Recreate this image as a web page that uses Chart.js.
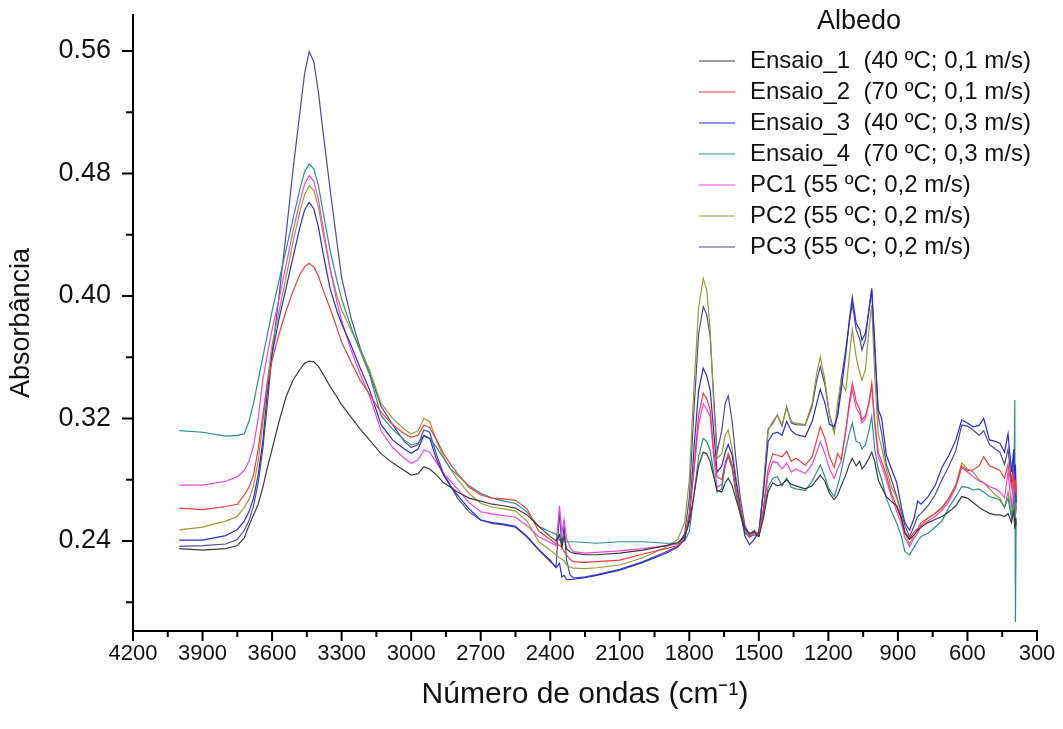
<!DOCTYPE html>
<html lang="pt">
<head>
<meta charset="utf-8">
<title>Albedo</title>
<script src="https://cdn.jsdelivr.net/npm/chart.js@4.4.1/dist/chart.umd.min.js"></script>
<style>
  html, body { margin: 0; padding: 0; background: #fff; }
  #wrap { width: 1063px; height: 729px; }
</style>
</head>
<body>
<div id="wrap"><canvas id="chart" width="1063" height="729"></canvas></div>
<script>
// wavenumbers (cm-1), shared by every spectrum
const wavenumbers = [
  4000, 3900, 3800, 3750, 3720, 3700, 3680, 3660, 3640, 3620,
  3600, 3570, 3540, 3510, 3480, 3460, 3440, 3420, 3400, 3380,
  3350, 3320, 3300, 3260, 3220, 3180, 3130, 3080, 3030, 3000,
  2970, 2945, 2920, 2890, 2860, 2830, 2800, 2750, 2700, 2650,
  2600, 2550, 2500, 2450, 2400, 2375, 2360, 2350, 2340, 2330,
  2315, 2300, 2250, 2200, 2100, 2000, 1900, 1850, 1820, 1800,
  1780, 1760, 1740, 1725, 1710, 1695, 1680, 1660, 1645, 1632,
  1615, 1600, 1580, 1560, 1540, 1520, 1500, 1480, 1460, 1440,
  1420, 1400, 1380, 1360, 1340, 1300, 1270, 1250, 1235, 1215,
  1195, 1175, 1160, 1145, 1125, 1110, 1097, 1080, 1065, 1055,
  1040, 1025, 1013, 1000, 985, 970, 950, 930, 905, 885,
  870, 850, 830, 815, 800, 770, 740, 710, 680, 650,
  625, 600, 575, 550, 530, 505, 480, 460, 440, 425,
  410, 400, 396, 393, 390
];

const ensaio1 = [
  0.235, 0.234, 0.235, 0.237, 0.242, 0.250, 0.257, 0.264, 0.275, 0.288,
  0.300, 0.318, 0.334, 0.345, 0.352, 0.356, 0.3575, 0.357, 0.354, 0.349,
  0.341, 0.334, 0.329, 0.321, 0.313, 0.306, 0.297, 0.291, 0.286, 0.283,
  0.284, 0.2885, 0.287, 0.283, 0.278, 0.275, 0.272, 0.268, 0.266, 0.264,
  0.263, 0.2615, 0.257, 0.2495, 0.243, 0.240, 0.244, 0.236, 0.2435, 0.235,
  0.233, 0.232, 0.231, 0.231, 0.232, 0.234, 0.237, 0.239, 0.243, 0.252,
  0.270, 0.289, 0.298, 0.297, 0.292, 0.282, 0.273, 0.272, 0.278, 0.281,
  0.276, 0.268, 0.258, 0.248, 0.245, 0.246, 0.243, 0.255, 0.272, 0.278,
  0.276, 0.277, 0.280, 0.277, 0.276, 0.274, 0.276, 0.280, 0.283, 0.279,
  0.271, 0.267, 0.270, 0.276, 0.283, 0.290, 0.294, 0.289, 0.292, 0.287,
  0.290, 0.294, 0.298, 0.292, 0.280, 0.275, 0.269, 0.266, 0.263, 0.255,
  0.245, 0.241, 0.244, 0.247, 0.249, 0.252, 0.254, 0.256, 0.259, 0.263,
  0.269, 0.268, 0.265, 0.262, 0.260, 0.258, 0.257, 0.257, 0.256, 0.258,
  0.252, 0.260, 0.248, 0.255, 0.250
];

const ensaio2 = [
  0.2615, 0.2605, 0.2625, 0.264, 0.270, 0.275, 0.283, 0.300, 0.322, 0.343,
  0.358, 0.375, 0.390, 0.403, 0.414, 0.419, 0.4213, 0.419, 0.413, 0.404,
  0.392, 0.379, 0.370, 0.357, 0.345, 0.336, 0.324, 0.316, 0.310, 0.3077,
  0.309, 0.3157, 0.314, 0.306, 0.297, 0.290, 0.284, 0.275, 0.270, 0.268,
  0.2675, 0.2665, 0.261, 0.2465, 0.241, 0.238, 0.237, 0.236, 0.233, 0.231,
  0.228, 0.2265, 0.226, 0.2265, 0.2275, 0.2315, 0.235, 0.237, 0.243, 0.258,
  0.288, 0.322, 0.3365, 0.333, 0.3255, 0.300, 0.282, 0.280, 0.291, 0.297,
  0.290, 0.275, 0.261, 0.249, 0.243, 0.246, 0.244, 0.262, 0.287, 0.297,
  0.296, 0.295, 0.2985, 0.292, 0.294, 0.2895, 0.295, 0.306, 0.3146, 0.307,
  0.295, 0.288, 0.297, 0.293, 0.312, 0.330, 0.343, 0.331, 0.326, 0.319,
  0.322, 0.330, 0.343, 0.318, 0.298, 0.292, 0.283, 0.272, 0.262, 0.254,
  0.246, 0.2415, 0.246, 0.248, 0.252, 0.255, 0.258, 0.262, 0.268, 0.276,
  0.289, 0.286, 0.2865, 0.289, 0.295, 0.289, 0.2875, 0.286, 0.281, 0.290,
  0.275, 0.285, 0.270, 0.280, 0.272
];

const ensaio3 = [
  0.2405, 0.2405, 0.2435, 0.2475, 0.253, 0.259, 0.268, 0.283, 0.305, 0.338,
  0.362, 0.385, 0.405, 0.425, 0.445, 0.456, 0.4612, 0.457, 0.445, 0.428,
  0.405, 0.390, 0.382, 0.368, 0.353, 0.339, 0.316, 0.306, 0.300, 0.2973,
  0.300, 0.309, 0.307, 0.293, 0.283, 0.276, 0.270, 0.261, 0.2537, 0.252,
  0.251, 0.2495, 0.243, 0.2345, 0.2275, 0.2225, 0.2255, 0.2165, 0.2175, 0.2150,
  0.2148, 0.2150, 0.2160, 0.2175, 0.221, 0.226, 0.232, 0.236, 0.241, 0.255,
  0.300, 0.338, 0.3528, 0.348, 0.3386, 0.312, 0.285, 0.289, 0.298, 0.303,
  0.296, 0.280, 0.262, 0.243, 0.2375, 0.241, 0.246, 0.272, 0.305, 0.310,
  0.311, 0.309, 0.318, 0.312, 0.3095, 0.308, 0.318, 0.330, 0.339, 0.330,
  0.316, 0.315, 0.322, 0.338, 0.362, 0.384, 0.399, 0.382, 0.378, 0.371,
  0.376, 0.390, 0.404, 0.365, 0.326, 0.320, 0.296, 0.288, 0.278, 0.262,
  0.252, 0.247, 0.255, 0.266, 0.264, 0.269, 0.276, 0.288, 0.296, 0.306,
  0.319, 0.317, 0.3146, 0.3155, 0.320, 0.306, 0.305, 0.3038, 0.298, 0.310,
  0.285, 0.300, 0.270, 0.290, 0.265
];

const ensaio4 = [
  0.312, 0.311, 0.3085, 0.309, 0.310, 0.318, 0.330, 0.345, 0.360, 0.375,
  0.390, 0.410, 0.430, 0.450, 0.470, 0.481, 0.4862, 0.483, 0.472, 0.455,
  0.430, 0.410, 0.398, 0.380, 0.364, 0.349, 0.322, 0.313, 0.306, 0.3027,
  0.304, 0.3085, 0.307, 0.301, 0.294, 0.287, 0.283, 0.276, 0.2711, 0.268,
  0.266, 0.2645, 0.259, 0.2495, 0.246, 0.2445, 0.2405, 0.2395, 0.2395, 0.2395,
  0.2395, 0.2395, 0.2390, 0.2385, 0.2395, 0.2395, 0.2385, 0.2385, 0.240, 0.246,
  0.270, 0.295, 0.307, 0.305, 0.299, 0.285, 0.272, 0.274, 0.290, 0.296,
  0.288, 0.272, 0.257, 0.245, 0.243, 0.244, 0.243, 0.258, 0.275, 0.281,
  0.282, 0.276, 0.281, 0.275, 0.274, 0.273, 0.279, 0.285, 0.2896, 0.282,
  0.273, 0.269, 0.276, 0.285, 0.300, 0.310, 0.317, 0.305, 0.304, 0.300,
  0.303, 0.312, 0.321, 0.300, 0.287, 0.280, 0.268, 0.260, 0.2516, 0.243,
  0.233, 0.2309, 0.236, 0.240, 0.243, 0.245, 0.249, 0.253, 0.262, 0.269,
  0.2755, 0.275, 0.2733, 0.274, 0.272, 0.269, 0.268, 0.2668, 0.262, 0.268,
  0.255, 0.265, 0.332, 0.187, 0.255
];

const pc1 = [
  0.2765, 0.2765, 0.279, 0.282, 0.286, 0.292, 0.302, 0.320, 0.345, 0.362,
  0.378, 0.398, 0.420, 0.442, 0.462, 0.473, 0.4786, 0.475, 0.463, 0.445,
  0.418, 0.396, 0.384, 0.365, 0.349, 0.335, 0.312, 0.301, 0.294, 0.2907,
  0.293, 0.2994, 0.298, 0.291, 0.284, 0.279, 0.274, 0.265, 0.2591, 0.2575,
  0.2565, 0.2555, 0.250, 0.2428, 0.239, 0.237, 0.263, 0.245, 0.254, 0.242,
  0.236, 0.233, 0.232, 0.2325, 0.2335, 0.235, 0.237, 0.238, 0.242, 0.255,
  0.285, 0.316, 0.3295, 0.326, 0.3212, 0.295, 0.275, 0.277, 0.289, 0.295,
  0.287, 0.273, 0.259, 0.246, 0.242, 0.245, 0.243, 0.260, 0.283, 0.292,
  0.291, 0.287, 0.291, 0.285, 0.287, 0.284, 0.290, 0.298, 0.3048, 0.297,
  0.287, 0.281, 0.287, 0.292, 0.312, 0.328, 0.3386, 0.327, 0.323, 0.317,
  0.320, 0.331, 0.3408, 0.316, 0.295, 0.289, 0.280, 0.270, 0.259, 0.251,
  0.242, 0.2363, 0.242, 0.245, 0.250, 0.253, 0.256, 0.260, 0.266, 0.275,
  0.288, 0.285, 0.282, 0.279, 0.278, 0.2755, 0.274, 0.272, 0.268, 0.285,
  0.262, 0.288, 0.255, 0.280, 0.265
];

const pc2 = [
  0.2472, 0.249, 0.253, 0.256, 0.262, 0.267, 0.276, 0.292, 0.317, 0.345,
  0.368, 0.390, 0.412, 0.435, 0.455, 0.466, 0.472, 0.469, 0.458, 0.441,
  0.418, 0.400, 0.391, 0.378, 0.365, 0.352, 0.330, 0.320, 0.313, 0.3099,
  0.312, 0.320, 0.318, 0.305, 0.295, 0.287, 0.280, 0.271, 0.2646, 0.262,
  0.261, 0.2595, 0.253, 0.2396, 0.234, 0.2309, 0.229, 0.228, 0.227, 0.2245,
  0.223, 0.2222, 0.222, 0.2225, 0.2243, 0.229, 0.236, 0.241, 0.252, 0.280,
  0.340, 0.392, 0.4115, 0.404, 0.3778, 0.330, 0.294, 0.297, 0.309, 0.3125,
  0.300, 0.283, 0.263, 0.247, 0.243, 0.246, 0.245, 0.275, 0.312, 0.318,
  0.322, 0.316, 0.327, 0.318, 0.317, 0.316, 0.330, 0.350, 0.360, 0.345,
  0.322, 0.310, 0.330, 0.345, 0.338, 0.360, 0.378, 0.360, 0.350, 0.345,
  0.352, 0.378, 0.394, 0.348, 0.310, 0.301, 0.287, 0.276, 0.268, 0.256,
  0.246, 0.238, 0.244, 0.247, 0.250, 0.255, 0.258, 0.261, 0.268, 0.277,
  0.291, 0.287, 0.285, 0.280, 0.278, 0.274, 0.270, 0.268, 0.262, 0.272,
  0.258, 0.270, 0.255, 0.265, 0.258
];

const pc3 = [
  0.2365, 0.237, 0.238, 0.241, 0.247, 0.253, 0.263, 0.278, 0.300, 0.330,
  0.362, 0.400, 0.440, 0.482, 0.520, 0.545, 0.5595, 0.553, 0.533, 0.507,
  0.470, 0.435, 0.412, 0.386, 0.366, 0.350, 0.328, 0.316, 0.305, 0.301,
  0.303, 0.3125, 0.311, 0.296, 0.284, 0.276, 0.268, 0.259, 0.2537, 0.2515,
  0.2505, 0.249, 0.2425, 0.234, 0.2265, 0.223, 0.259, 0.236, 0.250, 0.228,
  0.218, 0.2158, 0.2165, 0.218, 0.2215, 0.2265, 0.233, 0.2365, 0.245, 0.268,
  0.325, 0.375, 0.393, 0.388, 0.3734, 0.335, 0.298, 0.312, 0.330, 0.3347,
  0.318, 0.295, 0.268, 0.250, 0.244, 0.247, 0.244, 0.275, 0.313, 0.317,
  0.3223, 0.315, 0.3277, 0.317, 0.316, 0.3157, 0.328, 0.345, 0.3538, 0.342,
  0.322, 0.312, 0.323, 0.345, 0.365, 0.382, 0.395, 0.378, 0.372, 0.3647,
  0.372, 0.392, 0.405, 0.370, 0.322, 0.310, 0.290, 0.281, 0.269, 0.258,
  0.250, 0.2428, 0.250, 0.256, 0.258, 0.263, 0.270, 0.280, 0.289, 0.299,
  0.3157, 0.315, 0.3125, 0.309, 0.312, 0.303, 0.300, 0.298, 0.290, 0.300,
  0.278, 0.295, 0.262, 0.285, 0.260
];

const seriesLabels = [
  'Ensaio_1  (40 ºC; 0,1 m/s)',
  'Ensaio_2  (70 ºC; 0,1 m/s)',
  'Ensaio_3  (40 ºC; 0,3 m/s)',
  'Ensaio_4  (70 ºC; 0,3 m/s)',
  'PC1 (55 ºC; 0,2 m/s)',
  'PC2 (55 ºC; 0,2 m/s)',
  'PC3 (55 ºC; 0,2 m/s)'
];
const seriesValues = [ensaio1, ensaio2, ensaio3, ensaio4, pc1, pc2, pc3];
const seriesColors = ['#3a3a3a', '#f23c3c', '#2a2ad8', '#2b9087', '#f044e0', '#9a9a32', '#4a4a9e'];

const xMajorTicks = [4200, 3900, 3600, 3300, 3000, 2700, 2400, 2100, 1800, 1500, 1200, 900, 600, 300];
const xMinorTicks = [4050, 3750, 3450, 3150, 2850, 2550, 2250, 1950, 1650, 1350, 1050, 750, 450];
const yMajorTicks = [0.24, 0.32, 0.40, 0.48, 0.56];
const yMinorTicks = [0.20, 0.28, 0.36, 0.44, 0.52];

const legendTitle = 'Albedo';
const xTitle = 'Número de ondas (cm⁻¹)';
const yTitle = 'Absorbância';

Chart.defaults.font.family = '"Liberation Sans", Arial, sans-serif';
Chart.defaults.color = '#111';

// outward tick marks, long for labelled ticks, short for the minor ones
const tickMarks = {
  id: 'tickMarks',
  afterDraw(chart) {
    const { ctx, chartArea, scales } = chart;
    const x = scales.x, y = scales.y;
    ctx.save();
    ctx.strokeStyle = '#000';
    ctx.lineWidth = 2;
    ctx.beginPath();
    xMajorTicks.forEach(v => {
      const px = x.getPixelForValue(v);
      ctx.moveTo(px, chartArea.bottom); ctx.lineTo(px, chartArea.bottom + 10);
    });
    xMinorTicks.forEach(v => {
      const px = x.getPixelForValue(v);
      ctx.moveTo(px, chartArea.bottom); ctx.lineTo(px, chartArea.bottom + 6);
    });
    yMajorTicks.forEach(v => {
      const py = y.getPixelForValue(v);
      ctx.moveTo(chartArea.left, py); ctx.lineTo(chartArea.left - 11, py);
    });
    yMinorTicks.forEach(v => {
      const py = y.getPixelForValue(v);
      ctx.moveTo(chartArea.left, py); ctx.lineTo(chartArea.left - 7, py);
    });
    ctx.stroke();
    ctx.restore();
  }
};

// legend drawn inside the plot, top right, like the original
const insetLegend = {
  id: 'insetLegend',
  afterDraw(chart) {
    const ctx = chart.ctx;
    ctx.save();
    ctx.fillStyle = '#111';
    ctx.textBaseline = 'middle';
    ctx.font = '27px "Liberation Sans", Arial, sans-serif';
    ctx.textAlign = 'center';
    ctx.fillText(legendTitle, 859, 22);
    ctx.font = '24px "Liberation Sans", Arial, sans-serif';
    ctx.textAlign = 'left';
    chart.data.datasets.forEach((ds, i) => {
      const rowY = 61 + i * 31;
      ctx.strokeStyle = ds.borderColor;
      ctx.lineWidth = 1.2;
      ctx.beginPath();
      ctx.moveTo(699, rowY);
      ctx.lineTo(735, rowY);
      ctx.stroke();
      ctx.fillText(ds.label, 750, rowY);
    });
    ctx.restore();
  }
};

new Chart(document.getElementById('chart'), {
  type: 'line',
  data: {
    datasets: seriesValues.map((vals, i) => ({
      label: seriesLabels[i],
      data: wavenumbers.map((w, j) => ({ x: w, y: vals[j] })),
      borderColor: seriesColors[i],
      backgroundColor: seriesColors[i],
      borderWidth: 1.2,
      pointRadius: 0,
      tension: 0,
      fill: false
    }))
  },
  options: {
    responsive: false,
    animation: false,
    layout: { padding: { top: 15, right: 26, left: 0, bottom: 0 } },
    plugins: {
      legend: { display: false },
      tooltip: { enabled: false }
    },
    scales: {
      x: {
        type: 'linear',
        reverse: true,
        min: 300,
        max: 4200,
        afterBuildTicks: s => { s.ticks = xMajorTicks.map(v => ({ value: v })); },
        afterFit: s => { s.height = 98; s.paddingLeft = 0; s.paddingRight = 0; },
        grid: { display: false, drawTicks: false },
        border: { display: true, color: '#000', width: 2 },
        ticks: { padding: 10, autoSkip: false, maxRotation: 0, font: { size: 22 }, color: '#111', callback: v => String(v) },
        title: { display: true, text: xTitle, font: { size: 30 }, color: '#111', padding: { top: 0, bottom: 16 } }
      },
      y: {
        type: 'linear',
        min: 0.1812,
        max: 0.5835,
        afterBuildTicks: s => { s.ticks = yMajorTicks.map(v => ({ value: v })); },
        afterFit: s => { s.width = 133; s.paddingTop = 0; s.paddingBottom = 0; },
        grid: { display: false, drawTicks: false },
        border: { display: true, color: '#000', width: 2 },
        ticks: { padding: 22, font: { size: 27 }, color: '#111', callback: v => v.toFixed(2) },
        title: { display: true, text: yTitle, font: { size: 27 }, color: '#111', padding: { top: 5, bottom: 0 } }
      }
    }
  },
  plugins: [tickMarks, insetLegend]
});
</script>
</body>
</html>
